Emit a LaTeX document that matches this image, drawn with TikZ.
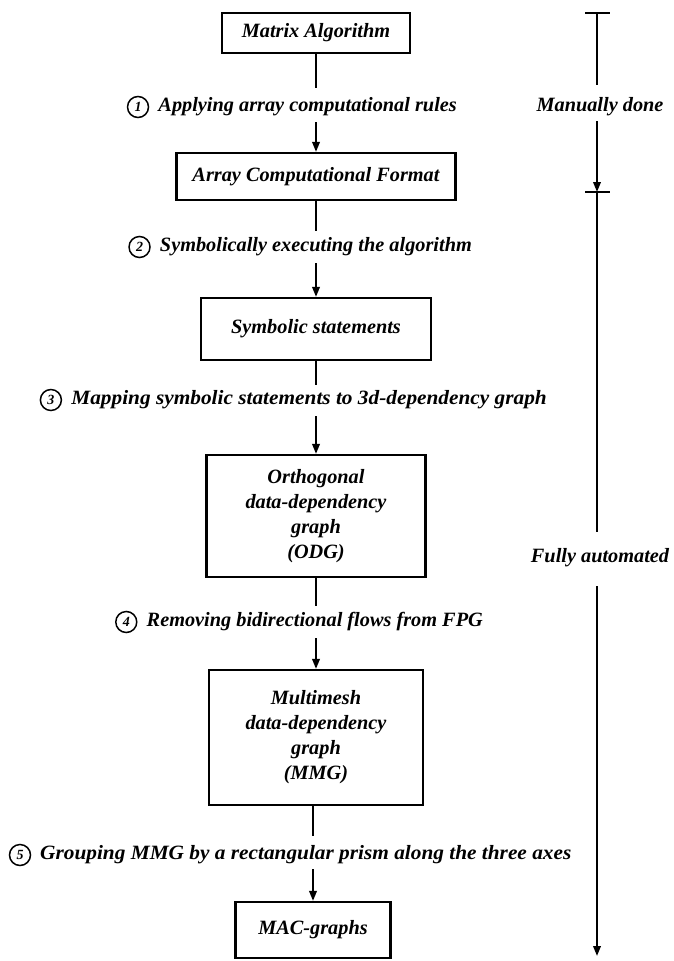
\documentclass[tikz,border=0pt]{standalone}
\usepackage{fontspec}
\setmainfont{Liberation Serif}
\usetikzlibrary{arrows.meta,positioning}
\begin{document}
\begin{tikzpicture}[x=1pt,y=-1pt,
  txt/.style={font=\fontsize{20.3}{25}\selectfont\bfseries\itshape, inner sep=0pt},
  box/.style={txt, draw, line width=2.2pt, align=center},
  flow/.style={line width=2pt},
  arr/.style={flow, -{Triangle[length=10pt,width=7.5pt]}},
  num/.style={draw, circle, line width=1.5pt, minimum size=21pt, inner sep=0pt,
    font=\fontsize{14}{14}\selectfont\bfseries\itshape},
  bar/.style={line width=2.2pt}
]
\useasboundingbox (0,0) rectangle (674,961);

% process boxes
\node[box, minimum width=188pt, minimum height=40pt]  (mat) at (316,33)    {Matrix Algorithm};
\node[box, minimum width=279pt, minimum height=47pt]  (acf) at (316,176.5) {Array Computational Format};
\node[box, minimum width=230pt, minimum height=62pt]  (sym) at (316,329)   {Symbolic statements};
\node[box, minimum width=219pt, minimum height=122pt] (odg) at (316,516)   {Orthogonal\\data-dependency\\graph\\(ODG)};
\node[box, minimum width=214pt, minimum height=135pt] (mmg) at (316,737.5) {Multimesh\\data-dependency\\graph\\(MMG)};
\node[box, minimum width=155pt, minimum height=56pt]  (mac) at (313,930)   {MAC-graphs};

% step labels, each preceded by its circled number
\node[txt, anchor=east] (l1) at (457,107) {Applying array computational rules};
\node[txt, anchor=east] (l2) at (472,247) {Symbolically executing the algorithm};
\node[txt, anchor=east, xscale=1.05, transform shape] (l3) at (547,400) {Mapping symbolic statements to 3d-dependency graph};
\node[txt, anchor=east] (l4) at (483,622) {Removing bidirectional flows from FPG};
\node[txt, anchor=west, xscale=1.05, transform shape] (l5) at (40,855) {Grouping MMG by a rectangular prism along the three axes};
\node[num, left=9pt of l1] (c1) {1};
\node[num, left=9pt of l2] (c2) {2};
\node[num, left=9pt of l3] (c3) {3};
\node[num, left=9pt of l4] (c4) {4};
\node[num] (c5) at (20,855) {5};

% gaps in the flow line around each label
\coordinate (g1a) at (316,88);  \coordinate (g1b) at (316,122);
\coordinate (g2a) at (316,231); \coordinate (g2b) at (316,263);
\coordinate (g3a) at (316,385); \coordinate (g3b) at (316,416);
\coordinate (g4a) at (316,606); \coordinate (g4b) at (316,638);
\coordinate (g5a) at (313,836); \coordinate (g5b) at (313,869);

\draw[flow] (mat.south) -- (g1a);
\draw[arr]  (g1b) -- (g1b |- acf.north);
\draw[flow] (acf.south) -- (g2a);
\draw[arr]  (g2b) -- (g2b |- sym.north);
\draw[flow] (sym.south) -- (g3a);
\draw[arr]  (g3b) -- (g3b |- odg.north);
\draw[flow] (odg.south) -- (g4a);
\draw[arr]  (g4b) -- (g4b |- mmg.north);
\draw[flow] (g5a |- mmg.south) -- (g5a);
\draw[arr]  (g5b) -- (mac.north);

% phase scale on the right
\coordinate (s0) at (597,13);
\coordinate (s0l) at (585,13);  \coordinate (s0r) at (610,13);
\coordinate (s1) at (597,85);   \coordinate (s2) at (597,121);
\coordinate (s3) at (597,192);
\coordinate (s3l) at (585,192); \coordinate (s3r) at (610,192);
\coordinate (s4) at (597,532);  \coordinate (s5) at (597,586);
\coordinate (s6) at (597,956);

\node[txt] (man) at (600,107) {Manually done};
\node[txt] (aut) at (600,558) {Fully automated};

\draw[bar] (s0l) -- (s0r);
\draw[flow] (s0) -- (s1);
\draw[arr] (s2) -- (s3);
\draw[bar] (s3l) -- (s3r);
\draw[flow] (s3) -- (s4);
\draw[arr] (s5) -- (s6);
\end{tikzpicture}
\end{document}
